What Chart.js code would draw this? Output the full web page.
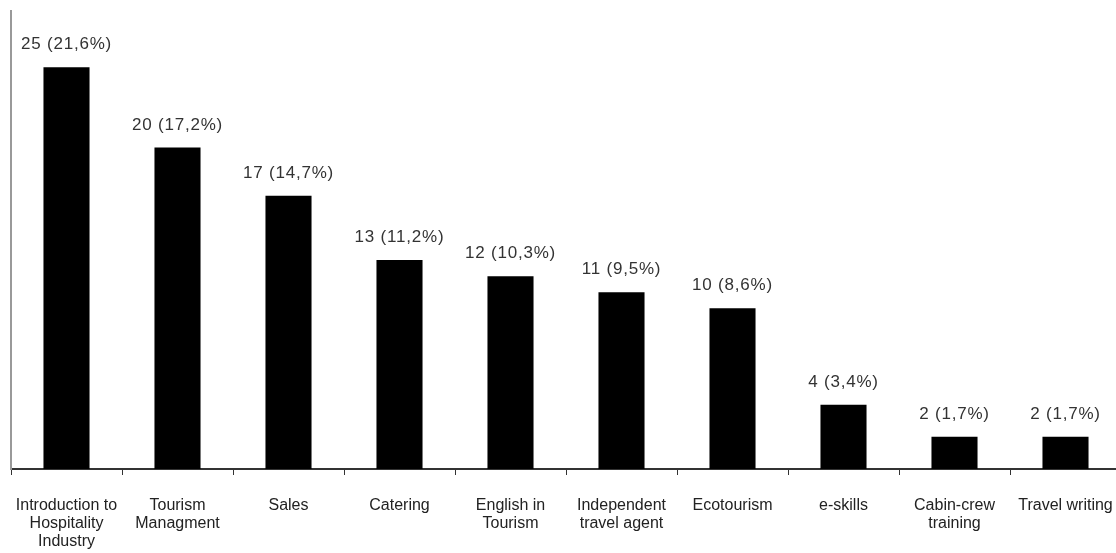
<!DOCTYPE html>
<html>
<head>
<meta charset="utf-8">
<script src="https://cdn.jsdelivr.net/npm/chart.js@4/dist/chart.umd.min.js"></script>
<style>
html,body{margin:0;padding:0;background:#fff;overflow:hidden;}
#wrap{width:1121px;height:573px;position:relative;}
</style>
</head>
<body>
<div id="wrap"><canvas id="c"></canvas></div>
<script>
const categories = [
  ["Introduction to","Hospitality","Industry"],
  ["Tourism","Managment"],
  "Sales",
  "Catering",
  ["English in","Tourism"],
  ["Independent","travel agent"],
  "Ecotourism",
  "e-skills",
  ["Cabin-crew","training"],
  "Travel writing"
];
const counts = [25, 20, 17, 13, 12, 11, 10, 4, 2, 2];
const percents = [21.6, 17.2, 14.7, 11.2, 10.3, 9.5, 8.6, 3.4, 1.7, 1.7];

const FONT = '"Liberation Sans", Arial, sans-serif';

const valueLabels = {
  id: 'valueLabels',
  afterDatasetsDraw(chart){
    const ctx = chart.ctx;
    const meta = chart.getDatasetMeta(0);
    ctx.save();
    ctx.letterSpacing = '0.8px';
    ctx.font = '17px ' + FONT;
    ctx.fillStyle = '#333';
    ctx.textAlign = 'center';
    ctx.textBaseline = 'alphabetic';
    meta.data.forEach((bar, i) => {
      const txt = counts[i] + ' (' + percents[i].toFixed(1).replace('.', ',') + '%)';
      ctx.fillText(txt, bar.x, bar.y - 18);
    });
    ctx.restore();
  }
};

new Chart(document.getElementById('c'), {
  type: 'bar',
  data: {
    labels: categories,
    datasets: [{
      data: counts,
      backgroundColor: '#000',
      borderWidth: 0,
      barPercentage: 0.415,
      categoryPercentage: 1.0
    }]
  },
  options: {
    responsive: true,
    maintainAspectRatio: false,
    animation: false,
    layout: { padding: { left: 11, right: 0, top: 11, bottom: 0 } },
    plugins: { legend: { display: false }, tooltip: { enabled: false } },
    scales: {
      x: {
        afterFit(scale){ scale.paddingLeft = 0; scale.paddingRight = 0; },
        grid: { display: true, drawOnChartArea: false, drawTicks: true, tickLength: 6, color: '#333', offset: true, lineWidth: 1 },
        border: { display: true, color: '#333', width: 2 },
        ticks: {
          color: '#222',
          font: { family: FONT, size: 16, lineHeight: 1.125 },
          padding: 22,
          maxRotation: 0,
          autoSkip: false
        }
      },
      y: {
        min: 0,
        max: 28.5,
        grid: { display: false, drawTicks: false, tickLength: 0 },
        border: { display: true, color: '#999', width: 2 },
        ticks: { display: false }
      }
    }
  },
  plugins: [valueLabels]
});
</script>
</body>
</html>
